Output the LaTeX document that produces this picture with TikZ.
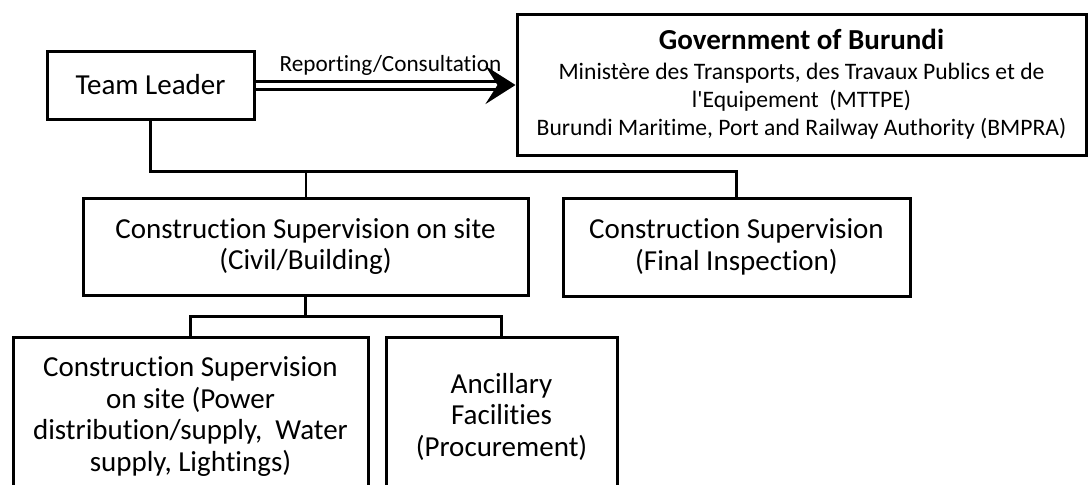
\documentclass[tikz,border=0pt]{standalone}
\usepackage{fontspec}
\setmainfont{Carlito}[Ligatures={NoCommon}]
\usetikzlibrary{arrows.meta}

\begin{document}
\begin{tikzpicture}[x=0.5pt,y=-0.5pt,
    box/.style={draw,line width=1.5pt,align=center,inner sep=0pt,
      font=\fontsize{14.5}{15.75}\selectfont},
    govbox/.style={box,font=\fontsize{11.8}{14}\selectfont},
    link/.style={line width=1.5pt},
    thinlink/.style={line width=1pt},
    report/.style={double,double distance=2.5pt,line width=1.5pt,
      -{Stealth[length=15pt,width=19pt,inset=6pt]}}]
  \clip (0,0) rectangle (1088,484);
  \node[box,minimum width=103.5pt,minimum height=34pt] (lead) at (150.5,85) {Team Leader};
  \node[govbox,minimum width=284.5pt,minimum height=70.5pt] (gov) at (801.5,84.5)
    {{\fontsize{14.5}{14}\selectfont\bfseries Government of Burundi}\\[1pt]
     Ministère des Transports, des Travaux Publics et de\\
     l\textquotesingle Equipement\ \ (MTTPE)\\
     Burundi Maritime, Port and Railway Authority (BMPRA)};
  \node[box,minimum width=222.5pt,minimum height=48.5pt] (civil) at (305.5,246.5)
    {Construction Supervision on site\\(Civil/Building)};
  \node[box,minimum width=173.5pt,minimum height=49pt] (final) at (736.5,247)
    {Construction Supervision\\(Final Inspection)};
  \node[box,minimum width=177.5pt,minimum height=79.5pt] (power) at (190.5,416.5)
    {Construction Supervision\\on site (Power\\distribution/supply,\ \ Water\\supply, Lightings)};
  \node[box,minimum width=115.5pt,minimum height=79.5pt] (ancil) at (501.5,416.5)
    {Ancillary\\Facilities\\(Procurement)};
  \coordinate (bus) at (0,171);
  \coordinate (subbus) at (0,316);
  \draw[report] (lead.east) -- (lead.east -| gov.west)
    node[midway,above=4pt,xshift=2.5pt,inner sep=0pt,font=\fontsize{11.6}{14}\selectfont] (rep) {Reporting/Consultation};
  \draw[link] (lead.south) -- (lead.south |- bus) -| (final.north);
  \draw[thinlink] (civil.north) -- (civil.north |- bus);
  \draw[link] (civil.south) -- (civil.south |- subbus);
  \draw[link] (power.north) |- (subbus -| ancil.north) -- (ancil.north);
\end{tikzpicture}
\end{document}
